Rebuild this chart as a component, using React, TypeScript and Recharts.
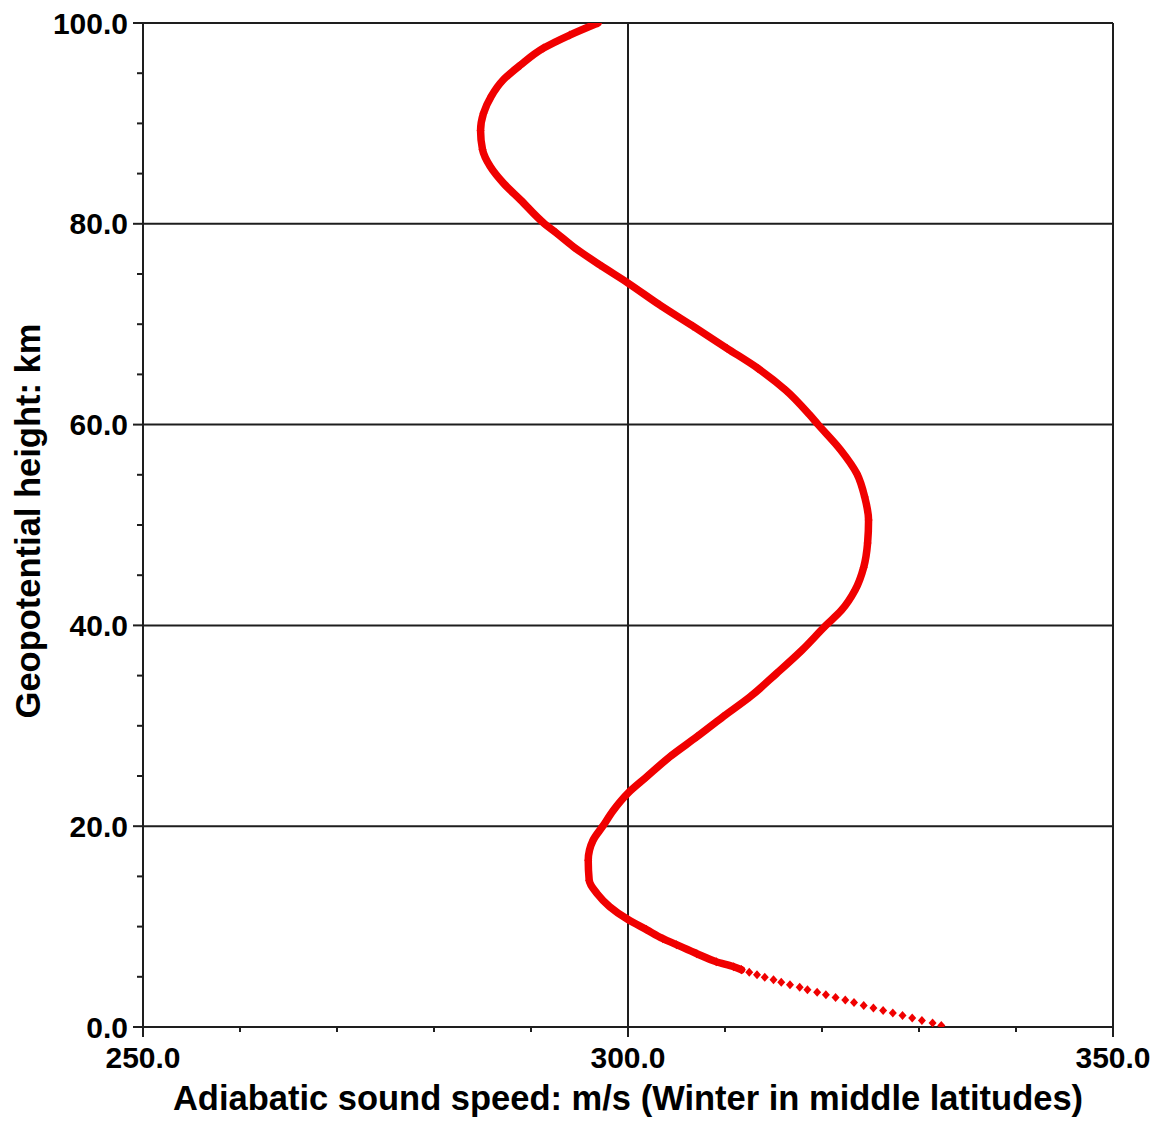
import React from "react";
import {
  ScatterChart,
  Scatter,
  XAxis,
  YAxis,
  CartesianGrid,
  Label,
} from "recharts";

// Lowest layer, one marker roughly every 0.25 km
const surfaceHeights = [
  0.15, 0.4, 0.65, 0.9, 1.15, 1.4, 1.65, 1.9, 2.15, 2.45, 2.7, 2.95, 3.2, 3.45,
  3.7, 3.95, 4.2, 4.45, 4.7, 4.95, 5.2, 5.45, 5.7,
];
const surfaceSpeeds = [
  332.3, 331.4, 330.3, 329.3, 328.3, 327.3, 326.3, 325.3, 324.3, 323.3, 322.4,
  321.4, 320.4, 319.5, 318.5, 317.7, 316.7, 315.8, 315.0, 314.1, 313.3, 312.5,
  311.7,
];

// Rest of the profile up to 100 km
const profileHeights = [
  5.7, 6.0, 6.5, 7.3, 8.2, 8.8, 9.7, 10.7, 12.0, 13.3, 14.6, 16.6, 18.6, 20.0,
  21.6, 23.3, 24.9, 26.9, 28.9, 30.9, 32.9, 35.2, 37.5, 40.0, 41.5, 43.5, 45.8,
  48.2, 50.5, 52.8, 55.1, 57.5, 60.0, 61.0, 63.4, 65.6, 67.6, 69.8, 71.9, 74.1,
  75.9, 77.7, 79.1, 80.0, 82.4, 84.0, 85.7, 87.4, 89.3, 91.0, 92.7, 94.3, 95.8,
  97.5, 98.8, 100.0,
];
const profileSpeeds = [
  311.7, 310.9, 309.1, 307.1, 305.0, 303.6, 301.9, 300.0, 298.1, 296.8, 296.0,
  295.9, 296.4, 297.4, 298.5, 300.0, 301.9, 304.3, 307.1, 309.8, 312.6, 315.3,
  317.9, 320.4, 322.0, 323.4, 324.3, 324.7, 324.8, 324.4, 323.6, 321.9, 319.6,
  318.7, 316.3, 313.4, 310.2, 306.7, 303.3, 300.0, 297.1, 294.4, 292.6, 291.4,
  288.9, 287.2, 285.8, 285.0, 284.8, 285.1, 285.9, 287.1, 288.9, 291.3, 294.0,
  296.9,
];

const speedTicks = [250, 260, 270, 280, 290, 300, 310, 320, 330, 340, 350];
const heightTicks = [
  0, 5, 10, 15, 20, 25, 30, 35, 40, 45, 50, 55, 60, 65, 70, 75, 80, 85, 90, 95,
  100,
];
const speedGrid = [250, 300, 350];
const heightGrid = [0, 20, 40, 60, 80, 100];

const surfaceData = surfaceHeights.map((h, i) => ({
  height: h,
  speed: surfaceSpeeds[i],
}));
const profileData = profileHeights.map((h, i) => ({
  height: h,
  speed: profileSpeeds[i],
}));

const RED = "#f00000";
const INK = "#1e1e1e";
const FONT = "'Liberation Sans', Arial, sans-serif";

const SpeedTick = ({ x, y, payload }: any) => {
  const major = payload.value % 50 === 0;
  return (
    <g>
      <line x1={x} x2={x} y1={y} y2={y + (major ? 10 : 5)} stroke={INK} strokeWidth={2} />
      {major && (
        <text
          x={x}
          y={y + 41}
          textAnchor="middle"
          fontFamily={FONT}
          fontWeight="bold"
          fontSize={30}
          fill="#000"
        >
          {payload.value.toFixed(1)}
        </text>
      )}
    </g>
  );
};

const HeightTick = ({ x, y, payload }: any) => {
  const major = payload.value % 20 === 0;
  return (
    <g>
      <line x1={x} x2={x - (major ? 10 : 6)} y1={y} y2={y} stroke={INK} strokeWidth={2} />
      {major && (
        <text
          x={x - 15}
          y={y + 10.5}
          textAnchor="end"
          fontFamily={FONT}
          fontWeight="bold"
          fontSize={30}
          fill="#000"
        >
          {payload.value.toFixed(1)}
        </text>
      )}
    </g>
  );
};

// small filled diamond used as the point marker
const Diamond = ({ cx, cy }: any) => (
  <polygon
    points={`${cx},${cy - 4.5} ${cx + 4},${cy} ${cx},${cy + 4.5} ${cx - 4},${cy}`}
    fill={RED}
  />
);

export default function App() {
  return (
    <ScatterChart
      width={1151}
      height={1122}
      margin={{ top: 15, right: 46, left: 0, bottom: 0 }}
    >
      <CartesianGrid
        stroke={INK}
        strokeWidth={2}
        verticalValues={speedGrid}
        horizontalValues={heightGrid}
      />
      <XAxis
        type="number"
        dataKey="speed"
        domain={[250, 350]}
        ticks={speedTicks}
        interval={0}
        height={103}
        axisLine={false}
        tickLine={false}
        tickSize={0}
        tickMargin={0}
        tick={<SpeedTick />}
        allowDataOverflow
      >
        <Label
          content={({ viewBox }: any) => (
            <text
              x={viewBox.x + viewBox.width / 2}
              y={viewBox.y + 83}
              textAnchor="middle"
              fontFamily={FONT}
              fontWeight="bold"
              fontSize={34.5}
              fill="#000"
            >
              Adiabatic sound speed: m/s (Winter in middle latitudes)
            </text>
          )}
        />
      </XAxis>
      <YAxis
        type="number"
        dataKey="height"
        domain={[0, 100]}
        ticks={heightTicks}
        interval={0}
        width={135}
        axisLine={false}
        tickLine={false}
        tickSize={0}
        tickMargin={0}
        tick={<HeightTick />}
        allowDataOverflow
      >
        <Label
          content={({ viewBox }: any) => {
            const cx = 32;
            const cy = viewBox.y + viewBox.height / 2 - 4;
            return (
              <text
                x={cx}
                y={cy}
                transform={`rotate(-90, ${cx}, ${cy})`}
                textAnchor="middle"
                fontFamily={FONT}
                fontWeight="bold"
                fontSize={34.5}
                fill="#000"
              >
                Geopotential height: km
              </text>
            );
          }}
        />
      </YAxis>
      <Scatter
        data={profileData}
        line={{ stroke: RED, strokeWidth: 7.5, strokeLinejoin: "round", strokeLinecap: "round" }}
        lineType="joint"
        lineJointType="monotoneY"
        shape={<Diamond />}
        isAnimationActive={false}
      />
      <Scatter data={surfaceData} shape={<Diamond />} isAnimationActive={false} />
    </ScatterChart>
  );
}
